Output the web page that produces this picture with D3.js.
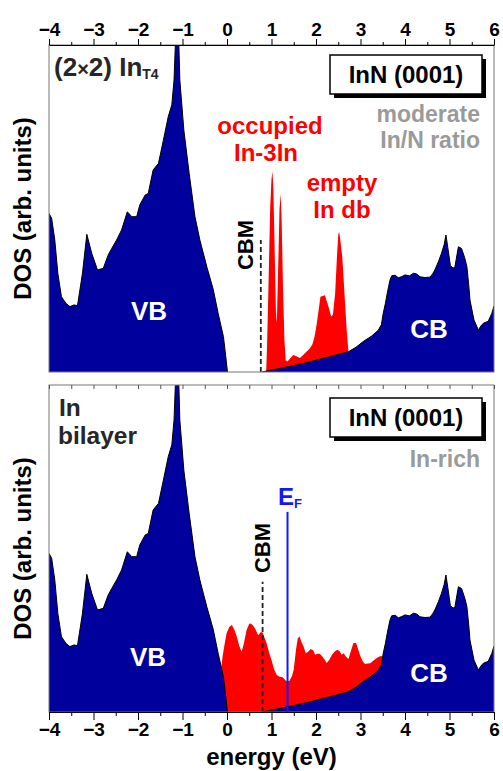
<!DOCTYPE html>
<html>
<head>
<meta charset="utf-8">
<script src="https://cdn.jsdelivr.net/npm/d3@7/dist/d3.min.js"></script>
<style>
  html, body { margin: 0; padding: 0; background: #fff; }
  svg { display: block; font-family: "Liberation Sans", Arial, sans-serif; font-weight: bold; }
</style>
</head>
<body>
<svg id="chart" width="503" height="771"></svg>
<script>
// Energy axis ticks (eV)
const majorTicks = [-4, -3, -2, -1, 0, 1, 2, 3, 4, 5, 6];
const minorTicks = [-3.5, -2.5, -1.5, -0.5, 0.5, 1.5, 2.5, 3.5, 4.5, 5.5];

// Valence band DOS of InN (energy eV, DOS arb. units)
const valenceBand = [
  [-4.00, 48.5], [-3.94, 47], [-3.87, 40.4], [-3.80, 30], [-3.72, 23.0], [-3.62, 21], [-3.53, 20.0],
  [-3.44, 20.5], [-3.36, 20.3], [-3.25, 30], [-3.15, 42.1], [-3.04, 36.3], [-2.91, 31.2],
  [-2.78, 31.7], [-2.67, 35.8], [-2.59, 37.8], [-2.48, 40.4], [-2.37, 43.4], [-2.24, 49.0],
  [-2.14, 47.5], [-2.03, 47.5], [-1.96, 51.1], [-1.84, 54.1], [-1.77, 54.6], [-1.66, 61.8],
  [-1.54, 63.8], [-1.43, 70.9], [-1.32, 78.1], [-1.24, 81.7], [-1.19, 89.3], [-1.15, 104],
  [-1.09, 104], [-1.06, 89.3], [-0.97, 74.0], [-0.85, 60.7], [-0.72, 47.5], [-0.61, 40.4],
  [-0.45, 32], [-0.31, 25.3], [-0.20, 18], [-0.08, 10.8], [-0.03, 5], [0.01, 0]
];

// Conduction band DOS of InN
const conductionBand = [
  [0.78, 0], [1.00, 0.6], [1.19, 1.1], [1.50, 2.0], [1.80, 2.9], [2.02, 3.7], [2.40, 5.0],
  [2.73, 6.2], [2.90, 7.6], [3.06, 9.3], [3.25, 11.0], [3.40, 12.8], [3.47, 14.5], [3.51, 17.9],
  [3.56, 21], [3.60, 24.0], [3.66, 28], [3.70, 29.4], [3.78, 29.6], [3.85, 28.8], [3.93, 29.2],
  [4.00, 29.7], [4.10, 29.4], [4.19, 30.2], [4.26, 30.0], [4.34, 29.1], [4.45, 28.9], [4.56, 29.0],
  [4.62, 30], [4.67, 31.2], [4.75, 33.7], [4.82, 36.3], [4.88, 39], [4.92, 41.9], [4.97, 37.3],
  [5.02, 32.5], [5.08, 31.8], [5.12, 32.0], [5.17, 36], [5.20, 38.3], [5.27, 37.8], [5.34, 35],
  [5.39, 32.3], [5.43, 27], [5.46, 22], [5.55, 15.9], [5.65, 12.8], [5.70, 14], [5.76, 14.9],
  [5.87, 15.5], [5.95, 17.9], [6.00, 20.2]
];

// Surface states, (2x2) In_T4: occupied In-3In and empty In dangling bond
const surfaceStatesT4 = [
  [0.88, 0], [0.90, 8], [0.93, 25], [0.97, 50], [1.00, 59], [1.02, 61.3], [1.04, 57], [1.07, 38],
  [1.10, 18], [1.12, 15], [1.15, 32], [1.18, 50], [1.21, 54.4], [1.23, 45], [1.26, 25], [1.29, 10],
  [1.32, 3.5], [1.36, 3.2], [1.42, 4.2], [1.49, 5.2], [1.56, 4.8], [1.64, 4.3], [1.75, 5.7],
  [1.85, 7], [1.92, 8.5], [1.97, 11], [2.02, 15], [2.07, 20], [2.10, 23], [2.20, 23.5], [2.28, 20],
  [2.34, 17], [2.38, 17.5], [2.43, 24], [2.47, 35], [2.50, 42], [2.52, 42.9], [2.55, 40],
  [2.59, 35.3], [2.64, 24], [2.69, 12.8], [2.73, 6.2], [2.74, 0]
];

// Surface states, In bilayer (metallic)
const surfaceStatesBilayer = [
  [-0.16, 0], [-0.14, 12], [-0.10, 17], [-0.05, 21], [-0.01, 24], [0.05, 26], [0.11, 26.6],
  [0.17, 25], [0.22, 23], [0.28, 20], [0.33, 18.4], [0.38, 21], [0.44, 25.1], [0.50, 27],
  [0.53, 27.1], [0.58, 26.5], [0.63, 25.5], [0.70, 23.5], [0.76, 24.5], [0.80, 24.3], [0.85, 22.5],
  [0.89, 21], [0.95, 18], [1.00, 15.9], [1.06, 13], [1.12, 11.3], [1.18, 10.8], [1.25, 10.6],
  [1.33, 9.5], [1.40, 9.5], [1.46, 11], [1.50, 13], [1.55, 19], [1.59, 22.5], [1.63, 23.2],
  [1.67, 21.5], [1.72, 20], [1.77, 18], [1.83, 18.5], [1.88, 19.3], [1.94, 18.8], [1.98, 17.5],
  [2.03, 17.8], [2.08, 17.8], [2.13, 17.2], [2.18, 16.3], [2.24, 15], [2.30, 16], [2.36, 17.5],
  [2.42, 18.5], [2.48, 19], [2.53, 18.6], [2.58, 17.5], [2.62, 18], [2.67, 17], [2.73, 16.2],
  [2.78, 18.5], [2.84, 21], [2.90, 21.2], [2.95, 19], [3.00, 17], [3.05, 15.5], [3.10, 14.7],
  [3.16, 14.8], [3.22, 14.9], [3.30, 15.8], [3.36, 16.4], [3.42, 17], [3.48, 17.1], [3.52, 16.5],
  [3.53, 0]
];

// Band edge / Fermi level markers (eV) and their drawn heights (DOS units)
const cbmEnergy = [0.76, 0.80];
const cbmHeight = [40.4, 39.8];
const fermiEnergy = 1.36;
const fermiHeight = 61.2;

const svg = d3.select("#chart");
const x = d3.scaleLinear().domain([-4, 6]).range([49, 494]);

const panels = [
  { top: 45, bottom: 372, states: surfaceStatesT4 },
  { top: 385, bottom: 712, states: surfaceStatesBilayer }
];

const BLUE = "#00009c", RED = "#ff0000";

panels.forEach((p, i) => {
  const y = d3.scaleLinear().domain([0, 100]).range([p.bottom, p.top]);
  p.y = y;
  const g = svg.append("g");
  const clipId = "clip" + i;
  svg.append("clipPath").attr("id", clipId)
    .append("rect").attr("x", x(-4)).attr("y", p.top)
    .attr("width", x(6) - x(-4)).attr("height", p.bottom - p.top);
  const body = g.append("g").attr("clip-path", `url(#${clipId})`);

  const area = d3.area().x(d => x(d[0])).y0(y(0)).y1(d => y(d[1]));
  const line = d3.line().x(d => x(d[0])).y(d => y(d[1]));

  body.append("path").attr("d", area(p.states)).attr("fill", RED);
  body.append("path").attr("d", area(valenceBand)).attr("fill", BLUE);
  body.append("path").attr("d", area(conductionBand)).attr("fill", BLUE);
  body.append("path").attr("d", line(valenceBand)).attr("fill", "none")
    .attr("stroke", "#000").attr("stroke-width", 1);
  body.append("path").attr("d", line(conductionBand)).attr("fill", "none")
    .attr("stroke", "#000").attr("stroke-width", 1);

  // conduction band minimum marker
  body.append("line")
    .attr("x1", x(cbmEnergy[i])).attr("x2", x(cbmEnergy[i]))
    .attr("y1", y(0)).attr("y2", y(cbmHeight[i]))
    .attr("stroke", "#222").attr("stroke-width", 1.8).attr("stroke-dasharray", "5,3");

  // frame
  g.append("rect").attr("x", x(-4)).attr("y", p.top)
    .attr("width", x(6) - x(-4)).attr("height", p.bottom - p.top)
    .attr("fill", "none").attr("stroke", "#777").attr("stroke-width", 1);
});

// Fermi level in the In-bilayer panel
const pb = panels[1];
svg.append("line")
  .attr("x1", x(fermiEnergy)).attr("x2", x(fermiEnergy))
  .attr("y1", pb.y(0)).attr("y2", pb.y(fermiHeight))
  .attr("stroke", "#1515ff").attr("stroke-width", 2);

// Axes
function styleAxis(sel) {
  sel.select(".domain").attr("stroke", "#000").attr("stroke-width", 1.2);
  sel.selectAll(".tick line").attr("stroke", "#000");
  sel.selectAll("text").attr("font-size", 19).attr("font-weight", "bold")
    .attr("font-family", "Liberation Sans, Arial, sans-serif").attr("fill", "#000");
}
const topMajor = svg.append("g").attr("transform", `translate(0,${panels[0].top})`)
  .call(d3.axisTop(x).tickValues(majorTicks).tickSize(6).tickSizeOuter(0).tickPadding(3).tickFormat(d3.format("d")));
styleAxis(topMajor);
svg.append("g").attr("transform", `translate(0,${panels[0].top})`)
  .call(d3.axisTop(x).tickValues(minorTicks).tickSize(3).tickFormat("")).call(s => { s.select(".domain").remove(); s.selectAll("line").attr("stroke", "#000"); });

const botMajor = svg.append("g").attr("transform", `translate(0,${panels[1].bottom})`)
  .call(d3.axisBottom(x).tickValues(majorTicks).tickSize(8).tickSizeOuter(0).tickPadding(3).tickFormat(d3.format("d")));
styleAxis(botMajor);
svg.append("g").attr("transform", `translate(0,${panels[1].bottom})`)
  .call(d3.axisBottom(x).tickValues(minorTicks).tickSize(4).tickFormat("")).call(s => { s.select(".domain").remove(); s.selectAll("line").attr("stroke", "#000"); });

// inner ticks along the top edge of the lower panel
svg.append("g").attr("transform", `translate(0,${panels[1].top})`)
  .call(d3.axisBottom(x).tickValues(majorTicks.concat(minorTicks)).tickSize(4).tickFormat(""))
  .call(s => { s.select(".domain").remove(); s.selectAll("line").attr("stroke", "#555"); });

// Axis titles
panels.forEach(p => {
  svg.append("text")
    .attr("transform", `translate(31,${(p.top + p.bottom) / 2}) rotate(-90)`)
    .attr("text-anchor", "middle").attr("font-size", 24).attr("fill", "#000")
    .text("DOS (arb. units)");
});
svg.append("text").attr("x", x(1)).attr("y", 765).attr("text-anchor", "middle")
  .attr("font-size", 24).attr("fill", "#000").text("energy (eV)");

// Annotations
function label(txt, px, py, opts = {}) {
  return svg.append("text").attr("x", px).attr("y", py)
    .attr("text-anchor", opts.anchor || "middle")
    .attr("font-size", opts.size || 24)
    .attr("fill", opts.color || "#000")
    .text(txt);
}
label("VB", 149, 320, { color: "#fff", size: 26 });
label("VB", 148, 666, { color: "#fff", size: 26 });
label("CB", 429, 338, { color: "#fff", size: 26 });
label("CB", 429, 682, { color: "#fff", size: 26 });

label("occupied", 270, 134, { color: RED });
label("In-3In", 266, 161, { color: RED });
label("empty", 342, 191, { color: RED });
label("In db", 342, 218, { color: RED });

label("moderate", 480, 122, { color: "#9a9a9a", anchor: "end", size: 23 });
label("In/N ratio", 480, 148, { color: "#9a9a9a", anchor: "end", size: 23 });
label("In-rich", 480, 467, { color: "#9a9a9a", anchor: "end", size: 23 });

// rotated CBM labels
svg.append("text").attr("transform", "translate(253,245) rotate(-90)")
  .attr("text-anchor", "middle").attr("font-size", 22).attr("fill", "#000").text("CBM");
svg.append("text").attr("transform", "translate(270,548) rotate(-90)")
  .attr("text-anchor", "middle").attr("font-size", 22).attr("fill", "#000").text("CBM");

// Fermi level label
const ef = svg.append("text").attr("x", 278).attr("y", 505).attr("font-size", 24).attr("fill", "#1515ff");
ef.append("tspan").text("E");
ef.append("tspan").attr("font-size", 13).attr("dy", 3).text("F");

// panel titles
const t1 = svg.append("text").attr("x", 54).attr("y", 76).attr("font-size", 26).attr("fill", "#262626");
t1.append("tspan").text("(2");
t1.append("tspan").attr("font-size", 20).text("\u00d7");
t1.append("tspan").text("2) In");
t1.append("tspan").attr("font-size", 14).attr("dy", 3).text("T4");

label("In", 59, 416, { anchor: "start", color: "#262626", size: 24.5 });
label("bilayer", 58, 444, { anchor: "start", color: "#262626", size: 24.5 });

// surface labels in shadowed boxes
[panels[0].top + 10, panels[1].top + 13].forEach(by => {
  svg.append("rect").attr("x", 334).attr("y", by + 4).attr("width", 152).attr("height", 39).attr("fill", "#000");
  svg.append("rect").attr("x", 330).attr("y", by).attr("width", 152).attr("height", 39)
    .attr("fill", "#fff").attr("stroke", "#000").attr("stroke-width", 1.5);
  label("InN (0001)", 406, by + 28, { size: 24 });
});
</script>
</body>
</html>
